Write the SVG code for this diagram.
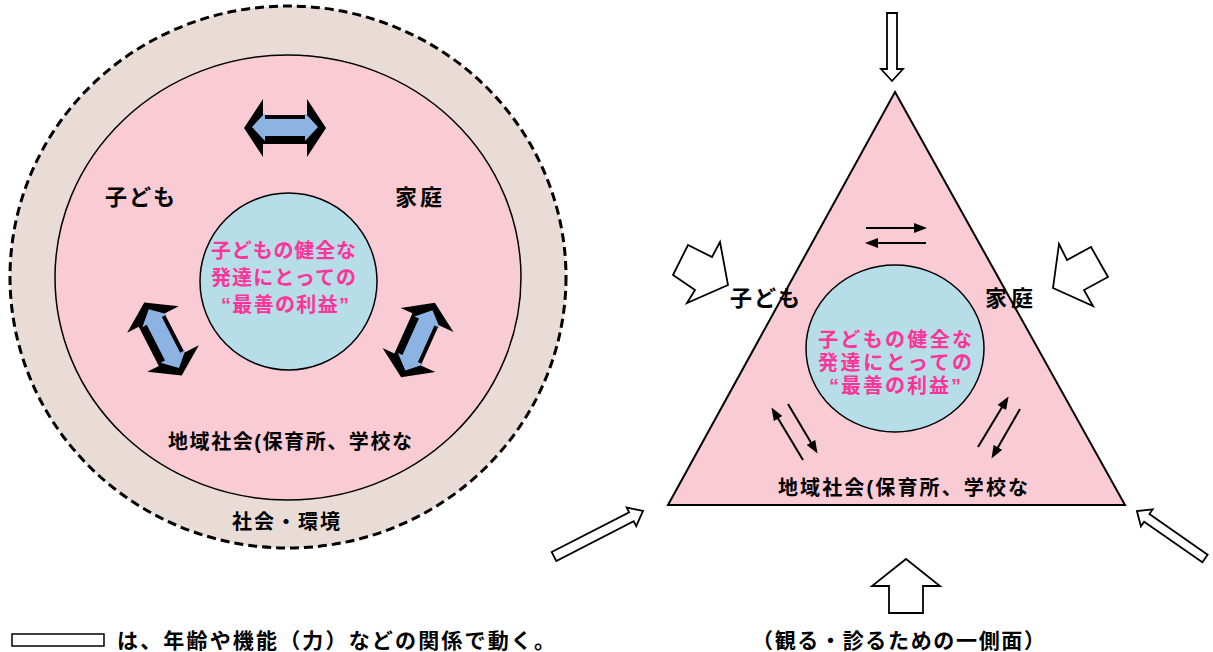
<svg xmlns="http://www.w3.org/2000/svg" xmlns:xlink="http://www.w3.org/1999/xlink" width="1213" height="652" viewBox="0 0 1213 652">
<style>
.t{font-family:"Liberation Sans","Noto Sans CJK JP",sans-serif;font-weight:bold;fill:#000;}
.p{font-family:"Liberation Sans","Noto Sans CJK JP",sans-serif;font-weight:bold;fill:#FF3399;}
.hollow{fill:#fff;stroke:#000;stroke-width:1.8;stroke-linejoin:miter;}
.sm{stroke:#000;stroke-width:2;fill:none;}
</style>
<defs>
<marker id="ah" markerUnits="userSpaceOnUse" markerWidth="13" markerHeight="10" refX="10" refY="5" orient="auto">
<path d="M0,0 L13,5 L0,10 z" fill="#000"/>
</marker>
<g id="dbl">
<polygon points="-41,0 -22,-29 -22,-13 22,-13 22,-29 41,0 22,29 22,16 -22,16 -22,29" fill="#000"/>
<polygon points="-33,-1 -20,-15 -20,-9 20,-9 20,-15 33,-1 20,13 20,8 -20,8 -20,13" fill="#8DB3E2"/>
</g>
</defs>

<g id="left-diagram">
<g id="outer-ring">
<ellipse cx="288" cy="277" rx="278" ry="271" fill="#E9DCD7" stroke="#000" stroke-width="3" stroke-dasharray="9 5"/>
<text class="t" x="232" y="529" font-size="20" textLength="108" lengthAdjust="spacing">社会・環境</text>
</g>
<g id="inner-circle">
<ellipse cx="288" cy="277.5" rx="233" ry="222.5" fill="#F9CBD4" stroke="#000" stroke-width="1.5"/>
<text class="t" x="105" y="205" font-size="22" textLength="70" lengthAdjust="spacing">子ども</text>
<text class="t" x="395" y="205" font-size="22" textLength="47" lengthAdjust="spacing">家庭</text>
<text class="t" x="168" y="449" font-size="20" textLength="244" lengthAdjust="spacing">地域社会(保育所、学校な</text>
</g>
<g id="center-circle">
<circle cx="288.5" cy="281.5" r="88.5" fill="#B7DDE8" stroke="#000" stroke-width="1.5"/>
<text class="p" x="211" y="258" font-size="20" textLength="145" lengthAdjust="spacing">子どもの健全な</text>
<text class="p" x="211" y="285" font-size="20" textLength="145" lengthAdjust="spacing">発達にとっての</text>
<text class="p" x="221" y="312" font-size="20" textLength="128" lengthAdjust="spacing">“最善の利益”</text>
</g>
<g id="double-arrows">
<use xlink:href="#dbl" transform="translate(285,128)"/>
<use xlink:href="#dbl" transform="translate(163,339) rotate(62.8)"/>
<use xlink:href="#dbl" transform="translate(418,340) rotate(114.3)"/>
</g>
</g>

<g id="right-diagram">
<g id="triangle">
<polygon points="895,92 1125,505 668,505" fill="#F9CBD4" stroke="#000" stroke-width="2"/>
<text class="t" x="730" y="306" font-size="22" textLength="70" lengthAdjust="spacing">子ども</text>
<text class="t" x="985" y="306" font-size="22" textLength="48" lengthAdjust="spacing">家庭</text>
<text class="t" x="778" y="495" font-size="20" textLength="250" lengthAdjust="spacing">地域社会(保育所、学校な</text>
</g>
<g id="center-circle-2">
<ellipse cx="895" cy="348.5" rx="89" ry="83.5" fill="#B7DDE8" stroke="#000" stroke-width="1.5"/>
<text class="p" x="818" y="347" font-size="20" textLength="154" lengthAdjust="spacing">子どもの健全な</text>
<text class="p" x="818" y="370" font-size="20" textLength="154" lengthAdjust="spacing">発達にとっての</text>
<text class="p" x="829" y="393" font-size="20" textLength="132" lengthAdjust="spacing">“最善の利益”</text>
</g>
<g id="connectors">
<line class="sm" x1="866" y1="228" x2="924" y2="228" marker-end="url(#ah)"/>
<line class="sm" x1="926" y1="243" x2="868" y2="243" marker-end="url(#ah)"/>
<line class="sm" x1="803" y1="460" x2="773" y2="410" marker-end="url(#ah)"/>
<line class="sm" x1="788" y1="404" x2="816" y2="451" marker-end="url(#ah)"/>
<line class="sm" x1="978" y1="447" x2="1007" y2="399" marker-end="url(#ah)"/>
<line class="sm" x1="1020" y1="409" x2="993" y2="456" marker-end="url(#ah)"/>
</g>
<g id="outside-arrows">
<polygon class="hollow" points="887,13 897,13 897,69 903,69 892,81 881,69 887,69"/>
<polygon class="hollow" points="906,559 940,586 923,586 923,613 889,613 889,586 872,586"/>
<polygon class="hollow" points="688,245 712,257 720,242 728,285 687,303 695,290 673,275"/>
<polygon class="hollow" points="1059,244 1067,260 1091,247 1108,277 1084,290 1093,306 1053,288"/>
<polygon class="hollow" transform="translate(554,556.5) rotate(-27.1)" points="0,-5 87,-5 87,-10.5 100,0 87,10.5 87,5 0,5"/>
<polygon class="hollow" transform="translate(1205,558.5) rotate(-145.1)" points="0,-4.6 71,-4.6 71,-10.3 83,0 71,10.3 71,4.6 0,4.6"/>
</g>
</g>

<g id="legend">
<rect x="12" y="634" width="92" height="12" fill="#fff" stroke="#000" stroke-width="1.5"/>
<text class="t" x="117" y="648" font-size="21" textLength="438" lengthAdjust="spacing">は、年齢や機能（力）などの関係で動く。</text>
<text class="t" x="752" y="648" font-size="21" textLength="293" lengthAdjust="spacing">（観る・診るための一側面）</text>
</g>
</svg>
